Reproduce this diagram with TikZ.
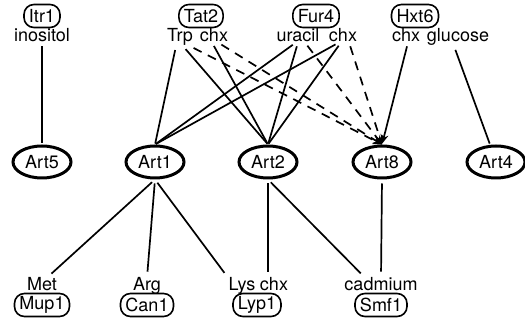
\documentclass[tikz,border=0pt]{standalone}
\usepackage{fontspec}
\setmainfont{TeX Gyre Heros}
\usetikzlibrary{shapes.geometric,arrows.meta}

\tikzset{
  art/.style={ellipse, draw, line width=3pt, minimum width=58pt, minimum height=32pt, inner sep=0pt},
  prot/.style={draw, rounded corners=10pt, line width=1.6pt, minimum height=23pt, inner xsep=5pt, inner ysep=0pt},
  sub/.style={inner sep=0pt, anchor=base},
  link/.style={line width=1.7pt, shorten <=4pt, shorten >=1pt},
  weak/.style={line width=1.7pt, dash pattern=on 9pt off 7pt, shorten <=4pt, -{Stealth[length=9pt,width=8pt]}}
}

\begin{document}
\begin{tikzpicture}[x=1pt,y=-1pt,font=\fontsize{18}{21}\selectfont]
\useasboundingbox (0,0) rectangle (525,328);
% transporters and their substrates, top row
\node[prot] (itr) at (42,16) {Itr1};
\node[prot] (tat) at (201,16) {Tat2};
\node[prot] (fur) at (316,16) {Fur4};
\node[prot] (hxt) at (415,16) {Hxt6};
\node[sub] (ino) at (42,42) {inositol};
\node[sub] (trp) at (180,42) {Trp};
\node[sub] (chxa) at (214,42) {chx};
\node[sub] (ura) at (298,42) {uracil};
\node[sub] (chxb) at (343,42) {chx};
\node[sub] (chxc) at (406,42) {chx};
\node[sub] (glu) at (458,42) {glucose};

% arrestins
\node[art] (art5) at (42,162) {Art5};
\node[art] (art1) at (155,162) {Art1};
\node[art] (art2) at (268,162) {Art2};
\node[art] (art8) at (382,162) {Art8};
\node[art] (art4) at (496,162) {Art4};

% bottom row
\node[sub] (met) at (42,291) {Met};
\node[sub] (arg) at (147,291) {Arg};
\node[sub] (lys) at (242,291) {Lys};
\node[sub] (chxd) at (274,291) {chx};
\node[sub] (cad) at (381,291) {cadmium};
\node[prot] (mup) at (42,305) {Mup1};
\node[prot] (can) at (147,305) {Can1};
\node[prot] (lyp) at (257,305) {Lyp1};
\node[prot] (smf) at (381,305) {Smf1};

\draw[link] (ino.south) -- (art5.north);
\draw[link] ([xshift=-4pt]trp.south) -- (art1.north);
\draw[link] ([xshift=3pt]trp.south) -- (art2.north);
\draw[link] ([xshift=-2pt]chxa.south) -- (art2.north);
\draw[link] ([xshift=-2pt]ura.south) -- (art1.north);
\draw[link] (ura.south) -- (art2.north);
\draw[link] ([xshift=-4pt]chxb.south) -- (art1.north);
\draw[link] ([xshift=-2pt]chxb.south) -- (art2.north);
\draw[weak] ([xshift=10pt]trp.south) -- (art8.north);
\draw[weak] ([xshift=4pt]chxa.south) -- (art8.north);
\draw[weak] ([xshift=7pt]ura.south) -- (art8.north);
\draw[weak] ([xshift=6pt]chxb.south) -- (art8.north);
\draw[link,-{Stealth[length=9pt,width=8pt]}] ([xshift=2pt]chxc.south) -- (art8.north);
\draw[link] ([xshift=-4pt]glu.south) -- ([xshift=-6pt]art4.north);

\draw[link,shorten >=6pt] (art1.south) -- ([xshift=5pt]met.north);
\draw[link,shorten >=6pt] (art1.south) -- (arg.north);
\draw[link,shorten >=6pt] (art1.south) -- ([xshift=-14pt]lys.north);
\draw[link,shorten >=6pt] (art2.south) -- ([xshift=-6pt]chxd.north);
\draw[link,shorten >=6pt] (art2.south) -- ([xshift=-16pt]cad.north);
\draw[link,shorten >=6pt] (art8.south) -- (cad.north);
\end{tikzpicture}
\end{document}
